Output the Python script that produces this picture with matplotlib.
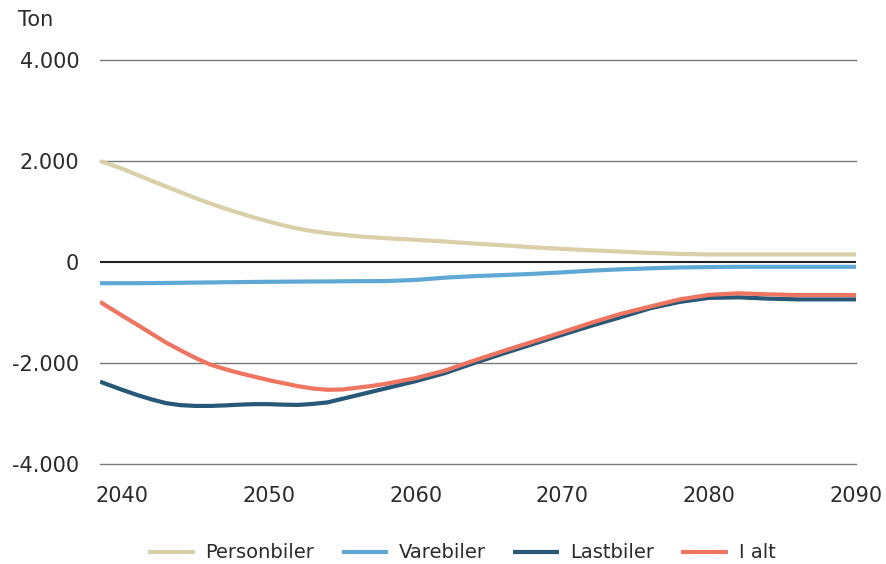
import matplotlib.pyplot as plt
from matplotlib.ticker import FuncFormatter

# Data (ton)
years = [2038.5, 2040, 2041, 2042, 2043, 2044, 2045, 2046, 2047, 2048, 2049,
         2050, 2051, 2052, 2053, 2054, 2055, 2056, 2057, 2058,
         2060, 2062, 2064, 2066, 2068, 2070, 2072, 2074, 2076, 2078, 2080,
         2082, 2084, 2086, 2088, 2090]
personbiler = [2000, 1850, 1730, 1610, 1495, 1380, 1265, 1160, 1060, 970, 880,
               800, 725, 660, 610, 570, 540, 510, 490, 470,
               440, 405, 365, 330, 290, 260, 230, 205, 180, 160, 150,
               150, 150, 150, 150, 150]
varebiler = [-420, -420, -420, -418, -415, -412, -408, -405, -401, -398, -395,
             -392, -390, -388, -386, -385, -382, -380, -379, -378,
             -355, -310, -280, -258, -235, -205, -170, -145, -125, -108, -100,
             -95, -95, -95, -95, -95]
lastbiler = [-2370, -2530, -2630, -2720, -2795, -2835, -2850, -2850, -2840, -2825, -2815,
             -2815, -2825, -2830, -2810, -2780, -2710, -2640, -2570, -2500,
             -2360, -2200, -2000, -1810, -1625, -1440, -1260, -1090, -915, -790, -710,
             -700, -725, -740, -740, -740]
i_alt = [-790, -1060, -1236, -1416, -1596, -1750, -1900, -2030, -2120, -2200, -2270,
         -2340, -2400, -2460, -2505, -2530, -2525, -2490, -2455, -2410,
         -2300, -2150, -1950, -1760, -1577, -1390, -1200, -1025, -880, -740, -650,
         -620, -640, -655, -655, -655]

series = [("Personbiler", personbiler, "#d9cfa8"),
          ("Varebiler", varebiler, "#5fa8d3"),
          ("Lastbiler", lastbiler, "#275878"),
          ("I alt", i_alt, "#ef7560")]

plt.rcParams['font.family'] = ['DejaVu Sans']
plt.rcParams['text.color'] = '#2b2b2b'

fig = plt.figure(figsize=(8.86, 5.64), dpi=100)
ax = fig.add_axes([100 / 886, 1 - 464 / 564, 756 / 886, 404 / 564])

for y in [-4000, -2000, 2000, 4000]:
    ax.axhline(y, color='#7a7a7a', lw=1.0, zorder=1, clip_on=False)
ax.axhline(0, color='#222222', lw=1.5, zorder=1)

for name, vals, col in series:
    ax.plot(years, vals, color=col, lw=3.0, label=name, zorder=3,
            solid_capstyle='butt', solid_joinstyle='round')

ax.set_xlim(2038.5, 2090)
ax.set_ylim(-4000, 4000)
ax.set_xticks([2040, 2050, 2060, 2070, 2080, 2090])
ax.set_yticks([-4000, -2000, 0, 2000, 4000])
ax.yaxis.set_major_formatter(FuncFormatter(lambda v, p: f"{int(v):,}".replace(",", ".")))
ax.tick_params(axis='both', length=0, labelsize=15, colors='#2b2b2b')
ax.tick_params(axis='y', pad=15)
ax.tick_params(axis='x', pad=16)
for s in ax.spines.values():
    s.set_visible(False)

fig.text(18 / 886, 1 - 20 / 564, "Ton", fontsize=15, va='center', ha='left')

fig.legend(loc='center', bbox_to_anchor=(462 / 886, 1 - 553 / 564), ncol=4,
           frameon=False, fontsize=14, handlelength=2.37, handletextpad=0.57,
           columnspacing=1.4)

fig.savefig("out.png", dpi=100)
